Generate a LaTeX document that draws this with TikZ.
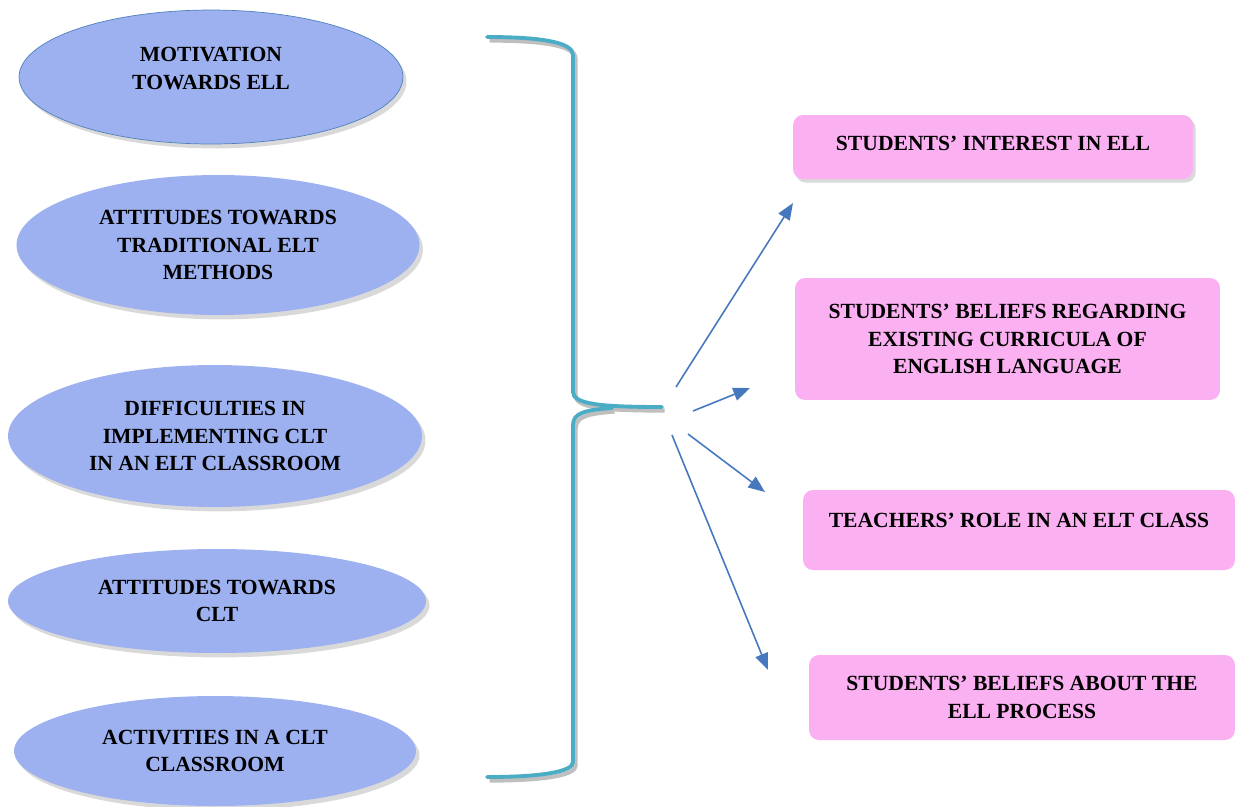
\documentclass[tikz,border=0pt]{standalone}
\usepackage{fontspec}
\setmainfont{Liberation Serif}
\usetikzlibrary{shapes.geometric, arrows.meta, shadows}
\definecolor{ovalBlue}{RGB}{157, 177, 240}
\definecolor{ovalEdge}{RGB}{79, 129, 189}
\definecolor{boxPink}{RGB}{251, 176, 241}
\definecolor{braceTeal}{RGB}{75, 172, 198}
\definecolor{arrowBlue}{RGB}{70, 120, 190}

\begin{document}
\begin{tikzpicture}[x=0.02cm, y=-0.02cm,
    oval/.style={ellipse, fill=ovalBlue, inner sep=0pt, align=center,
      font=\fontsize{12.3}{15.6}\selectfont\bfseries,
      drop shadow={shadow xshift=2pt, shadow yshift=-2.5pt, opacity=0.3}},
    theme/.style={rectangle, rounded corners=0.2cm, fill=boxPink, inner sep=0pt,
      align=center, font=\fontsize{12.3}{15.6}\selectfont\bfseries},
    brace/.style={braceTeal, line width=2.2pt, line cap=round,
      preaction={draw=black!25, line width=2.4pt, transform canvas={shift={(1.5pt,-2pt)}}}},
    link/.style={arrowBlue, line width=0.9pt, -{Triangle[length=9.5pt, width=7.5pt]}}]
        \useasboundingbox (0,0) rectangle (1235,806);

        % factors on the left
        \node[oval, draw=ovalEdge, thin, text depth=10pt, minimum width=7.68cm, minimum height=2.68cm] (motiv) at (211,77) {MOTIVATION\\TOWARDS ELL};
        \node[oval, minimum width=8.06cm, minimum height=2.8cm] (tradit) at (218,245) {ATTITUDES TOWARDS\\TRADITIONAL ELT\\METHODS};
        \node[oval, minimum width=8.28cm, minimum height=2.84cm] (diffic) at (215,436) {DIFFICULTIES IN\\IMPLEMENTING CLT\\IN AN ELT CLASSROOM};
        \node[oval, minimum width=8.36cm, minimum height=2.08cm] (attclt) at (217,601) {ATTITUDES TOWARDS\\CLT};
        \node[oval, minimum width=8.04cm, minimum height=2.2cm] (activ) at (215,751) {ACTIVITIES IN A CLT\\CLASSROOM};

        % brace
        \draw[brace] (487,37) .. controls (540,37) and (573,42) .. (573,55) -- (573,392)
          .. controls (573,404) and (600,407) .. (662,407);
        \draw[brace] (612,408) .. controls (585,410) and (573,413) .. (573,425) -- (573,762)
          .. controls (573,772) and (540,777) .. (487,777);

        % themes on the right
        \node[theme, text depth=4.6pt, minimum width=8.0cm, minimum height=1.28cm,
          drop shadow={shadow xshift=1.5pt, shadow yshift=-2pt, opacity=0.3}] (interest) at (993,147) {STUDENTS’ INTEREST IN ELL};
        \node[theme, minimum width=8.5cm, minimum height=2.44cm] (curric) at (1007.5,339) {STUDENTS’ BELIEFS REGARDING\\EXISTING CURRICULA OF\\ENGLISH LANGUAGE};
        \node[theme, text depth=11.4pt, minimum width=8.64cm, minimum height=1.6cm] (role) at (1019,530) {TEACHERS’ ROLE IN AN ELT CLASS};
        \node[theme, minimum width=8.52cm, minimum height=1.7cm] (process) at (1022,697.5) {STUDENTS’ BELIEFS ABOUT THE\\ELL PROCESS};

        % arrows
        \coordinate (s1) at (676,387);
        \coordinate (s2) at (693,411);
        \coordinate (s3) at (688,434);
        \coordinate (s4) at (672,435);
        \coordinate (t1) at (793,203);
        \coordinate (t2) at (750,388);
        \coordinate (t3) at (765,492);
        \coordinate (t4) at (768,670);
        \draw[link] (s1) -- (t1);
        \draw[link] (s2) -- (t2);
        \draw[link] (s3) -- (t3);
        \draw[link] (s4) -- (t4);
      \end{tikzpicture}
\end{document}
